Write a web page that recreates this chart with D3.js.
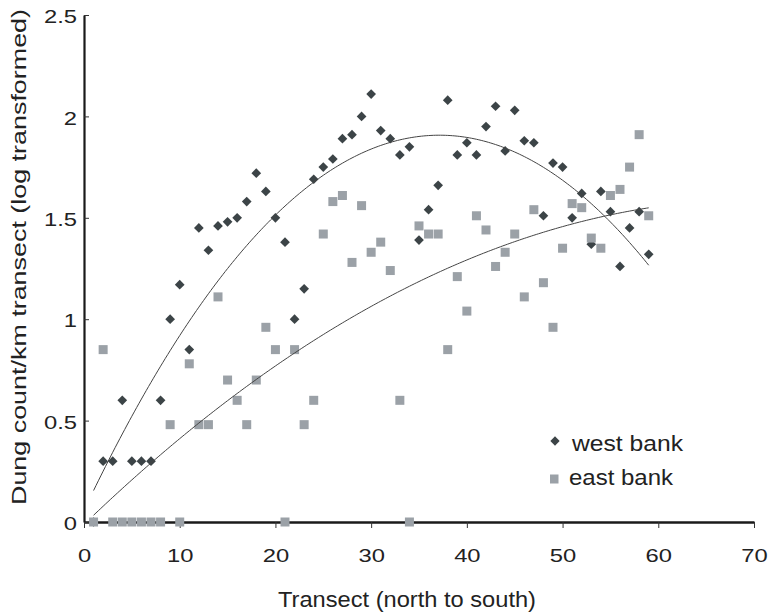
<!DOCTYPE html>
<html>
<head>
<meta charset="utf-8">
<script src="https://cdn.jsdelivr.net/npm/d3@7"></script>
<style>
  body { margin: 0; background: #fff; }
  text { font-family: "Liberation Sans", Arial, sans-serif; fill: #222; }
</style>
</head>
<body>
<div id="container"></div>
<script>
/* DATA */
const transects = d3.range(1, 60); // 1..59
const westBank = [0, 0.30, 0.30, 0.60, 0.30, 0.30, 0.30, 0.60, 1.00, 1.17,
  0.85, 1.45, 1.34, 1.46, 1.48, 1.50, 1.58, 1.72, 1.63, 1.50,
  1.38, 1.00, 1.15, 1.69, 1.75, 1.79, 1.89, 1.91, 2.00, 2.11,
  1.93, 1.89, 1.81, 1.85, 1.39, 1.54, 1.66, 2.08, 1.81, 1.87,
  1.81, 1.95, 2.05, 1.83, 2.03, 1.88, 1.87, 1.51, 1.77, 1.75,
  1.50, 1.62, 1.37, 1.63, 1.53, 1.26, 1.45, 1.53, 1.32];
const eastBank = [0, 0.85, 0, 0, 0, 0, 0, 0, 0.48, 0,
  0.78, 0.48, 0.48, 1.11, 0.70, 0.60, 0.48, 0.70, 0.96, 0.85,
  0, 0.85, 0.48, 0.60, 1.42, 1.58, 1.61, 1.28, 1.56, 1.33,
  1.38, 1.24, 0.60, 0, 1.46, 1.42, 1.42, 0.85, 1.21, 1.04,
  1.51, 1.44, 1.26, 1.33, 1.42, 1.11, 1.54, 1.18, 0.96, 1.35,
  1.57, 1.55, 1.40, 1.35, 1.61, 1.64, 1.75, 1.91, 1.51];
const xTicks = [0, 10, 20, 30, 40, 50, 60, 70];
const yTicks = [0, 0.5, 1, 1.5, 2, 2.5];

/* SIZES */
const width = 770, height = 615;
const margin = {top: 15, right: 16, bottom: 93, left: 84};

const svg = d3.select("#container").append("svg")
  .attr("width", width)
  .attr("height", height);

/* SCALES */
const xScale = d3.scaleLinear()
  .domain([0, 70])
  .range([margin.left, width - margin.right]);

const yScale = d3.scaleLinear()
  .domain([0, 2.5])
  .range([height - margin.bottom, margin.top]);

// the text in the picture is a bit wider than plain arial, stretch it
function stretch(sel, k) {
  sel.each(function() {
    const w = this.getComputedTextLength();
    d3.select(this).attr("textLength", w * k).attr("lengthAdjust", "spacingAndGlyphs");
  });
}

// least squares polynomial fit (like an excel trendline)
function polyFit(xs, ys, order) {
  const n = order + 1;
  const A = [];
  for (let i = 0; i < n; i++) {
    A.push(new Array(n + 1).fill(0));
    for (let j = 0; j < n; j++) {
      A[i][j] = d3.sum(xs, x => Math.pow(x, i + j));
    }
    A[i][n] = d3.sum(xs, (x, k) => ys[k] * Math.pow(x, i));
  }
  // gaussian elimination
  for (let i = 0; i < n; i++) {
    let max = i;
    for (let r = i + 1; r < n; r++) if (Math.abs(A[r][i]) > Math.abs(A[max][i])) max = r;
    [A[i], A[max]] = [A[max], A[i]];
    for (let r = i + 1; r < n; r++) {
      const f = A[r][i] / A[i][i];
      for (let c = i; c <= n; c++) A[r][c] -= f * A[i][c];
    }
  }
  const coef = new Array(n).fill(0);
  for (let i = n - 1; i >= 0; i--) {
    let s = A[i][n];
    for (let j = i + 1; j < n; j++) s -= A[i][j] * coef[j];
    coef[i] = s / A[i][i];
  }
  return x => coef.reduce((acc, c, i) => acc + c * Math.pow(x, i), 0);
}

const westFit = polyFit(transects, westBank, 2);
const eastFit = polyFit(transects, eastBank, 2);

const line = d3.line()
  .x(d => xScale(d[0]))
  .y(d => yScale(d[1]));

const steps = d3.range(1, 59.01, 0.25);

/* AXES */
const xAxis = d3.axisBottom(xScale).tickValues(xTicks).tickSize(6).tickSizeOuter(0).tickFormat(d3.format("d"));
const yAxis = d3.axisLeft(yScale).tickValues(yTicks).tickSize(0).tickSizeOuter(0).tickFormat(d => d);

const gx = svg.append("g")
  .attr("transform", `translate(0,${height - margin.bottom})`)
  .call(xAxis);
gx.select(".domain").attr("stroke", "#1a1a1a").attr("stroke-width", 2.5);
gx.selectAll(".tick line").attr("stroke", "#333").attr("stroke-width", 1);
gx.selectAll(".tick text").attr("font-size", 19).attr("y", 40).attr("dy", 0).call(stretch, 1.25);

const gy = svg.append("g")
  .attr("transform", `translate(${margin.left},0)`)
  .call(yAxis);
gy.select(".domain").attr("stroke", "#1a1a1a").attr("stroke-width", 2.2);
gy.selectAll(".tick line").attr("x2", 5).attr("stroke", "#333").attr("stroke-width", 1);
gy.selectAll(".tick text").attr("font-size", 19).attr("x", -7).attr("dy", "0.4em").call(stretch, 1.25);

svg.append("text")
  .attr("x", 407)
  .attr("y", 607)
  .attr("text-anchor", "middle")
  .attr("font-size", 22)
  .attr("textLength", 258)
  .attr("lengthAdjust", "spacingAndGlyphs")
  .text("Transect (north to south)");

svg.append("text")
  .attr("transform", "translate(26,257) rotate(-90)")
  .attr("text-anchor", "middle")
  .attr("font-size", 19.5)
  .attr("textLength", 496)
  .attr("lengthAdjust", "spacingAndGlyphs")
  .text("Dung count/km transect (log transformed)");

/* MARKS */
const diamond = d3.symbol().type(d3.symbolDiamond2).size(60);

svg.selectAll(".west")
  .data(transects.map((t, i) => [t, westBank[i]]))
  .join("path")
  .attr("class", "west")
  .attr("d", diamond)
  .attr("transform", d => `translate(${xScale(d[0])},${yScale(d[1])})`)
  .attr("fill", "#3c4447");

svg.selectAll(".east")
  .data(transects.map((t, i) => [t, eastBank[i]]))
  .join("rect")
  .attr("class", "east")
  .attr("x", d => xScale(d[0]) - 4.5)
  .attr("y", d => yScale(d[1]) - 4.5)
  .attr("width", 9)
  .attr("height", 9)
  .attr("fill", "#9ba1a7");

// trendlines
svg.append("path")
  .datum(steps.map(x => [x, westFit(x)]))
  .attr("d", line)
  .attr("fill", "none")
  .attr("stroke", "#444")
  .attr("stroke-width", 1);

svg.append("path")
  .datum(steps.map(x => [x, eastFit(x)]))
  .attr("d", line)
  .attr("fill", "none")
  .attr("stroke", "#444")
  .attr("stroke-width", 1);

/* LEGEND */
const legend = svg.append("g");
legend.append("path")
  .attr("d", d3.symbol().type(d3.symbolDiamond2).size(55))
  .attr("transform", "translate(555,441)")
  .attr("fill", "#3c4447");
legend.append("text")
  .attr("x", 572).attr("y", 451)
  .attr("font-size", 22)
  .attr("textLength", 111)
  .attr("lengthAdjust", "spacingAndGlyphs")
  .text("west bank");
legend.append("rect")
  .attr("x", 550).attr("y", 474.5)
  .attr("width", 8.5).attr("height", 9)
  .attr("fill", "#9ba1a7");
legend.append("text")
  .attr("x", 569).attr("y", 485)
  .attr("font-size", 22)
  .attr("textLength", 104)
  .attr("lengthAdjust", "spacingAndGlyphs")
  .text("east bank");
</script>
</body>
</html>
